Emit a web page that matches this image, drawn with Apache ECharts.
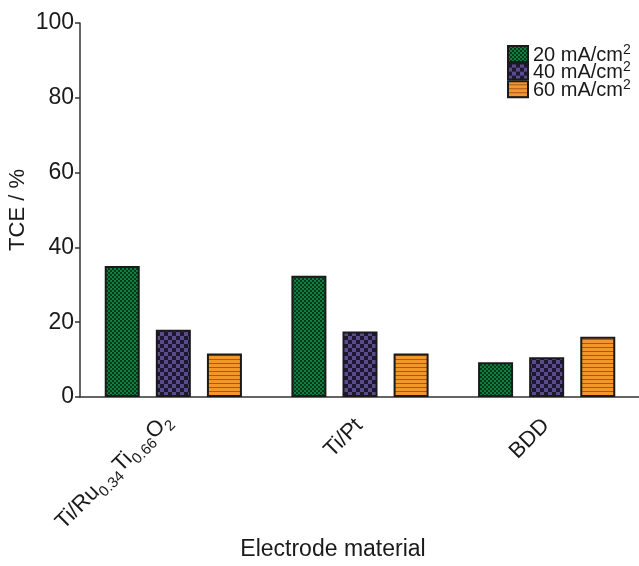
<!DOCTYPE html>
<html>
<head>
<meta charset="utf-8">
<script src="https://cdn.jsdelivr.net/npm/echarts@6/dist/echarts.min.js"></script>
<style>html,body{margin:0;padding:0;background:#fff}#c{width:639px;height:566px}</style>
</head>
<body>
<div id="c"></div>
<script>
const categories = ['Ti/Ru0.34Ti0.66O2', 'Ti/Pt', 'BDD'];
const seriesNames = ['20 mA/cm2', '40 mA/cm2', '60 mA/cm2'];
const values20 = [35.0, 32.4, 9.3];
const values40 = [18.0, 17.5, 10.6];
const values60 = [11.6, 11.6, 16.1];
const yTicks = [0, 20, 40, 60, 80, 100];

function makePattern(kind) {
  const c = document.createElement('canvas');
  const ctx = c.getContext('2d');
  if (kind === 'green') {
    c.width = 4; c.height = 4;
    ctx.fillStyle = '#0f8040'; ctx.fillRect(0, 0, 4, 4);
    ctx.fillStyle = '#05381a';
    ctx.fillRect(0, 0, 2, 2); ctx.fillRect(2, 2, 2, 2);
  } else if (kind === 'purple') {
    c.width = 8; c.height = 8;
    ctx.fillStyle = '#5b4a8e'; ctx.fillRect(0, 0, 8, 8);
    ctx.fillStyle = '#1c1830';
    ctx.fillRect(0, 0, 4, 4); ctx.fillRect(4, 4, 4, 4);
  } else {
    c.width = 4; c.height = 4;
    ctx.fillStyle = '#f4962c'; ctx.fillRect(0, 0, 4, 4);
    ctx.fillStyle = '#a8561a'; ctx.fillRect(0, 3, 4, 1);
  }
  return { image: c, repeat: 'repeat' };
}

const patterns = [makePattern('green'), makePattern('purple'), makePattern('orange')];
const dataSets = [values20, values40, values60];
const FONT = 'Liberation Sans, Arial, sans-serif';

const catRich = {
  n: { fontSize: 22, fontFamily: FONT, color: '#1a1a1a', lineHeight: 24, verticalAlign: 'top' },
  s: { fontSize: 15, fontFamily: FONT, color: '#1a1a1a', lineHeight: 38 }
};

function catFormatter(v) {
  if (v === 'Ti/Ru0.34Ti0.66O2') return '{n|Ti/Ru}{s|0.34}{n|Ti}{s|0.66}{n|O}{s|2}';
  return '{n|' + v + '}';
}

const chart = echarts.init(document.getElementById('c'), null, { renderer: 'canvas' });
chart.setOption({
  animation: false,
  backgroundColor: '#ffffff',
  grid: { left: 80, top: 23, width: 560, height: 374, containLabel: false, outerBoundsMode: 'none' },
  legend: {
    orient: 'vertical',
    left: 502, top: 38,
    itemWidth: 20, itemHeight: 16, itemGap: -4.4,
    icon: 'rect',
    data: seriesNames,
    formatter: function (name) { return '{n|' + name.slice(0, -1) + '}{p|2}'; },
    textStyle: {
      rich: {
        n: { fontSize: 20, fontFamily: FONT, color: '#1a1a1a', lineHeight: 22, verticalAlign: 'bottom' },
        p: { fontSize: 14, fontFamily: FONT, color: '#1a1a1a', lineHeight: 10, verticalAlign: 'top' }
      }
    }
  },
  xAxis: {
    type: 'category',
    data: categories,
    name: 'Electrode material',
    nameLocation: 'middle',
    nameGap: 141,
    nameMoveOverlap: false,
    nameTextStyle: { fontSize: 23, fontFamily: FONT, color: '#1a1a1a', padding: [0, 54, 0, 0] },
    axisLine: { lineStyle: { color: '#333', width: 1.5 } },
    axisTick: { alignWithLabel: true, length: 5, lineStyle: { color: '#333', width: 1.5 } },
    axisLabel: { rotate: 45, margin: 26, formatter: catFormatter, rich: catRich }
  },
  yAxis: {
    type: 'value',
    min: 0, max: 100, interval: 20,
    name: 'TCE / %',
    nameLocation: 'middle',
    nameGap: 51,
    nameMoveOverlap: false,
    nameTextStyle: { fontSize: 22, fontFamily: FONT, color: '#1a1a1a' },
    splitLine: { show: false },
    axisLine: { show: true, lineStyle: { color: '#333', width: 1.5 } },
    axisTick: { show: true, length: 5, lineStyle: { color: '#333', width: 1.5 } },
    axisLabel: {
      fontSize: 23, fontFamily: FONT, color: '#1a1a1a', margin: 6,
      customValues: yTicks
    }
  },
  series: seriesNames.map(function (n, i) {
    return {
      name: n,
      type: 'bar',
      data: dataSets[i],
      barWidth: 35,
      barGap: '46%',
      itemStyle: { color: patterns[i], borderColor: '#1a1a1a', borderWidth: 2 }
    };
  })
});
</script>
</body>
</html>
